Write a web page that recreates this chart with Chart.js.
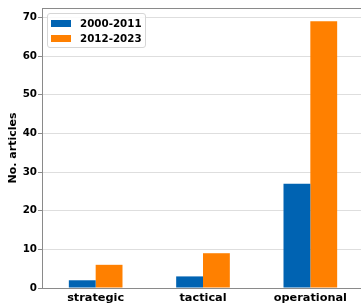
<!DOCTYPE html>
<html>
<head>
<meta charset="utf-8">
<script src="https://cdn.jsdelivr.net/npm/chart.js@4/dist/chart.umd.min.js"></script>
<style>
  html, body { margin: 0; padding: 0; background: #fff; overflow: hidden; }
  #wrap { position: relative; width: 364px; height: 306px; }
  #legend { position: absolute; left: 47px; top: 13px; width: 97px; height: 33px;
    border: 1px solid #d6d6d6; border-radius: 3px; background: rgba(255,255,255,0.85);
    font-family: "DejaVu Sans", sans-serif; font-weight: bold; font-size: 10.3px; color: #000; }
  .item { position: absolute; left: 3px; height: 12px; display: flex; align-items: center; }
  .patch { width: 20px; height: 7px; margin-right: 9px; }
</style>
</head>
<body>
<div id="wrap">
  <canvas id="c" width="364" height="306"></canvas>
  <div id="legend"></div>
</div>
<script>
const categories = ["strategic", "tactical", "operational"];
const seriesNames = ["2000-2011", "2012-2023"];
const values2000_2011 = [2, 3, 27];
const values2012_2023 = [6, 9, 69];
const yTicks = [0, 10, 20, 30, 40, 50, 60, 70];
const yMax = 72.45;
const colors = ["#0063B2", "#FF8000"];

const FONT = '"DejaVu Sans", sans-serif';
const spine = '#8a8a8a';

const chart = new Chart(document.getElementById('c'), {
  type: 'bar',
  data: {
    labels: categories,
    datasets: [
      { label: seriesNames[0], data: values2000_2011, backgroundColor: colors[0] },
      { label: seriesNames[1], data: values2012_2023, backgroundColor: colors[1] }
    ]
  },
  options: {
    responsive: false,
    animation: false,
    events: [],
    layout: { padding: { top: 8, left: 0, right: 0, bottom: 0 } },
    datasets: { bar: { categoryPercentage: 0.5, barPercentage: 1.0 } },
    plugins: { legend: { display: false }, tooltip: { enabled: false } },
    scales: {
      x: {
        type: 'category',
        position: 'bottom',
        grid: { display: false },
        border: { display: true, color: spine, width: 1 },
        ticks: { font: { family: FONT, weight: 'bold', size: 11.3 }, color: '#000', padding: -5 },
        afterFit: s => { s.height = 18; }
      },
      x2: {
        type: 'category',
        position: 'top',
        grid: { display: false },
        border: { display: true, color: spine, width: 1 },
        ticks: { display: false },
        afterFit: s => { s.height = 0; }
      },
      y: {
        min: 0,
        max: yMax,
        afterBuildTicks: s => { s.ticks = yTicks.map(v => ({ value: v })); },
        grid: { color: '#dedede', lineWidth: 1, tickColor: spine, tickLength: 4 },
        border: { display: true, color: spine, width: 1 },
        ticks: { font: { family: FONT, weight: 'bold', size: 10.3 }, color: '#000', padding: 1 },
        title: { display: true, text: 'No. articles', font: { family: FONT, weight: 'bold', size: 11 }, color: '#000', padding: { top: 7, bottom: 0 } },
        afterFit: s => { s.width = 42; }
      }
    }
  }
});

const lg = document.getElementById('legend');
chart.data.datasets.forEach((ds, i) => {
  const it = document.createElement('div');
  it.className = 'item';
  it.style.top = (3 + i * 15) + 'px';
  const p = document.createElement('span');
  p.className = 'patch';
  p.style.background = ds.backgroundColor;
  const t = document.createElement('span');
  t.textContent = ds.label;
  it.appendChild(p); it.appendChild(t);
  lg.appendChild(it);
});
</script>
</body>
</html>
